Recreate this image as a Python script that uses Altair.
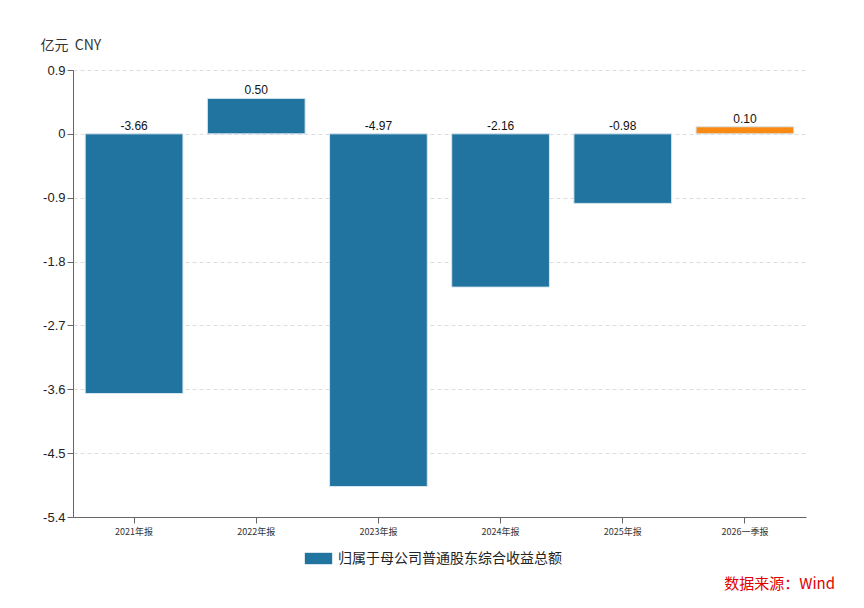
import altair as alt
import pandas as pd

periods = ["2021年报", "2022年报", "2023年报", "2024年报", "2025年报", "2026一季报"]
values = [-3.66, 0.50, -4.97, -2.16, -0.98, 0.10]
series_name = "归属于母公司普通股东综合收益总额"
y_ticks = [0.9, 0, -0.9, -1.8, -2.7, -3.6, -4.5, -5.4]

df = pd.DataFrame({
    "period": periods,
    "value": values,
    "series": [series_name] * len(periods),
    "label": [f"{v:.2f}" for v in values],
    "labelpos": [max(v, 0) for v in values],
})

BLUE = "#2274a0"
ORANGE = "#f98b15"
FONT = "Noto Sans CJK SC"
LATIN = "Liberation Sans, Helvetica, Arial, sans-serif"

x_enc = alt.X("period:N", sort=periods, title=None,
              scale=alt.Scale(paddingInner=0.2, paddingOuter=0.1),
              axis=alt.Axis(labelAngle=0, labelFontSize=9, labelColor="#333",
                            domainColor="#666", tickColor="#666", tickSize=6,
                            labelPadding=4, grid=False, labelFont=FONT))

y_scale = alt.Scale(domain=[-5.4, 0.9], nice=False, zero=False)

bars = alt.Chart(df).mark_bar(stroke="#d6e6ef", strokeWidth=1).encode(
    x=x_enc,
    y=alt.Y("value:Q", scale=y_scale, title="亿元\u00a0\u00a0CNY",
            axis=alt.Axis(values=y_ticks,
                          labelExpr="datum.value == 0 ? '0' : replace(format(datum.value, '.1f'), '\u2212', '-')",
                          labelFontSize=13,
                          labelColor="#222", domainColor="#666", tickColor="#666",
                          tickSize=6, labelPadding=2, grid=True,
                          gridColor="#dddddd", gridDash=[4, 3],
                          titleAngle=0, titleAlign="left", titleBaseline="middle",
                          titleX=-33, titleY=-25, titleFontSize=14,
                          titleFontWeight="normal", titleColor="#333",
                          titleFont=FONT, labelFont=LATIN)),
    y2=alt.datum(0),
    color=alt.condition(
        alt.datum.period == "2026一季报",
        alt.value(ORANGE),
        alt.Color("series:N",
                  scale=alt.Scale(domain=[series_name], range=[BLUE]),
                  legend=alt.Legend(title=None, orient="none", legendX=234, legendY=477,
                                    symbolType="M-1.2,-0.5H1.2V0.5H-1.2Z",
                                    symbolSize=520, symbolStrokeWidth=0,
                                    labelFontSize=14, labelColor="#222",
                                    labelFont=FONT, labelOffset=8, labelLimit=0)),
    ),
)

labels = alt.Chart(df).mark_text(baseline="bottom", dy=-1, fontSize=12,
                                 color="#111", font=LATIN).encode(
    x=alt.X("period:N", sort=periods),
    y=alt.Y("labelpos:Q", scale=y_scale),
    text="label:N",
)

source = alt.Chart(pd.DataFrame({"t": ["数据来源：Wind"]})).mark_text(
    align="right", baseline="middle", fontSize=15, color="#e00000", font=FONT
).encode(x=alt.value(762), y=alt.value(514), text="t:N")

chart = alt.layer(bars, labels, source).properties(
    width=733, height=447,
    autosize=alt.AutoSizeParams(type="none"),
    padding={"left": 65, "top": 62, "right": 50, "bottom": 83},
    background="white",
).configure_view(stroke=None)

chart.save("out.html", embed_options={"renderer": "svg", "actions": False})
